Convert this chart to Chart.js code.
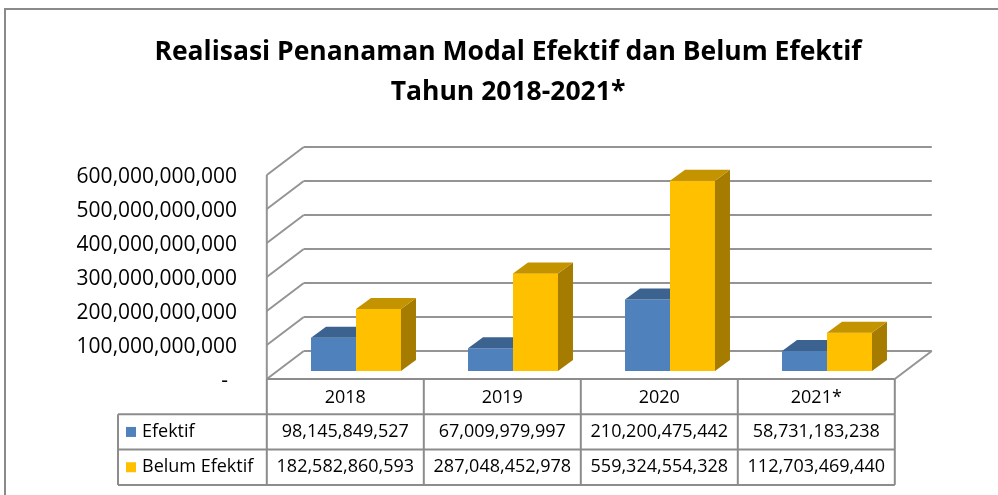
<!DOCTYPE html>
<html>
<head>
<meta charset="utf-8">
<title>Realisasi Penanaman Modal</title>
<script src="https://cdn.jsdelivr.net/npm/chart.js@4/dist/chart.umd.min.js"></script>
<style>
  html, body { margin: 0; padding: 0; background: #ffffff; }
  #wrap { width: 998px; height: 495px; position: relative; }
  canvas { display: block; }
</style>
</head>
<body>
<div id="wrap"><canvas id="chart" width="998" height="495"></canvas></div>
<script>
// Data
const titleLines = ['Realisasi Penanaman Modal Efektif dan Belum Efektif', 'Tahun 2018-2021*'];
const categories = ['2018', '2019', '2020', '2021*'];
const seriesNames = ['Efektif', 'Belum Efektif'];
const efektif = [98145849527, 67009979997, 210200475442, 58731183238];
const belumEfektif = [182582860593, 287048452978, 559324554328, 112703469440];
const yTickValues = [0, 100000000000, 200000000000, 300000000000, 400000000000, 500000000000, 600000000000];

// Colours
const faceColors = ['#4F81BD', '#FFC000'];
const topColors = ['#3C6290', '#C49300'];
const sideColors = ['#2F4E75', '#A67C00'];
const gridColor = '#949494';
const tableColor = '#8c8c8c';
const FONT = '"Open Sans", "DejaVu Sans", sans-serif';

// Perspective offsets relative to the plane the bars stand in
const FRONT = { x: -10.7, y: 8 };    // front edge of floor / walls
const BACK = { x: 26.3, y: -20 };    // back wall
const BAR_DEPTH = { x: 15, y: -11 }; // thickness of each bar

const fmt = v => v.toLocaleString('en-US');

function line(ctx, x1, y1, x2, y2) {
  ctx.beginPath();
  ctx.moveTo(x1, y1);
  ctx.lineTo(x2, y2);
  ctx.stroke();
}

function poly(ctx, pts, color) {
  ctx.beginPath();
  ctx.moveTo(pts[0][0], pts[0][1]);
  for (let i = 1; i < pts.length; i++) ctx.lineTo(pts[i][0], pts[i][1]);
  ctx.closePath();
  ctx.fillStyle = color;
  ctx.fill();
}

// Back wall, side wall and floor grid
const gridPlugin = {
  id: 'grid3d',
  beforeDatasetsDraw(chart) {
    const { ctx, chartArea: a } = chart;
    const y = chart.scales.y;
    ctx.save();
    ctx.strokeStyle = gridColor;
    ctx.lineWidth = 2;
    yTickValues.forEach(v => {
      const py = y.getPixelForValue(v);
      line(ctx, a.left + BACK.x, py + BACK.y, a.right + BACK.x, py + BACK.y);
      line(ctx, a.left + FRONT.x, py + FRONT.y, a.left + BACK.x, py + BACK.y);
    });
    const top = y.getPixelForValue(yTickValues[yTickValues.length - 1]);
    const base = y.getPixelForValue(0);
    line(ctx, a.left + FRONT.x, top + FRONT.y, a.left + FRONT.x, base + FRONT.y);
    line(ctx, a.right + FRONT.x, base + FRONT.y, a.right + BACK.x, base + BACK.y);
    ctx.restore();
  }
};

// Tops and sides of the bars
const bar3dPlugin = {
  id: 'bar3d',
  afterDatasetsDraw(chart) {
    const ctx = chart.ctx;
    const drawDepth = (di) => {
      chart.getDatasetMeta(di).data.forEach(el => {
        const L = el.x - el.width / 2, R = el.x + el.width / 2;
        const T = el.y, B = el.base;
        const dx = BAR_DEPTH.x, dy = BAR_DEPTH.y;
        poly(ctx, [[R, T], [R + dx, T + dy], [R + dx, B + dy], [R, B]], sideColors[di]);
        poly(ctx, [[L, T], [R, T], [R + dx, T + dy], [L + dx, T + dy]], topColors[di]);
      });
    };
    ctx.save();
    drawDepth(0);
    // second series sits to the right, so its front face covers the first one's depth
    chart.getDatasetMeta(1).data.forEach(el => el.draw(ctx));
    drawDepth(1);
    ctx.restore();
  }
};

// Title, value axis labels, data table and outer frame
const decorPlugin = {
  id: 'decor',
  afterDraw(chart) {
    const { ctx, chartArea: a } = chart;
    const y = chart.scales.y, x = chart.scales.x;
    ctx.save();

    // frame
    ctx.strokeStyle = '#8a8a8a';
    ctx.lineWidth = 2;
    ctx.beginPath();
    ctx.moveTo(5, 495); ctx.lineTo(5, 9); ctx.lineTo(998, 9);
    ctx.stroke();

    // title
    ctx.fillStyle = '#000';
    ctx.textAlign = 'center';
    ctx.textBaseline = 'middle';
    ctx.font = 'bold 26.5px ' + FONT;
    ctx.fillText(titleLines[0], 508, 52);
    ctx.fillText(titleLines[1], 508, 92);

    // value labels on the front edge of the side wall
    ctx.font = '21px ' + FONT;
    ctx.textAlign = 'right';
    yTickValues.forEach(v => {
      const py = y.getPixelForValue(v) + FRONT.y + 2;
      if (v === 0) ctx.fillText('-', 228, py);
      else ctx.fillText(fmt(v), 237, py);
    });

    // data table
    const left = a.left + FRONT.x;
    const right = a.right + FRONT.x;
    const colW = (a.right - a.left) / categories.length;
    const rowTop = y.getPixelForValue(0) + FRONT.y;
    const rowH = 35.3;
    const legendLeft = 118;
    const rows = [rowTop, rowTop + rowH, rowTop + 2 * rowH, rowTop + 3 * rowH];

    ctx.strokeStyle = tableColor;
    ctx.lineWidth = 2;
    line(ctx, left, rows[0], right, rows[0]);
    for (let r = 1; r < rows.length; r++) line(ctx, legendLeft, rows[r], right, rows[r]);
    for (let c = 0; c <= categories.length; c++) {
      const cx = left + c * colW;
      line(ctx, cx, rows[0], cx, rows[3]);
    }
    line(ctx, legendLeft, rows[1], legendLeft, rows[3]);

    ctx.fillStyle = '#000';
    ctx.font = '18px ' + FONT;
    ctx.textAlign = 'center';
    categories.forEach((cat, i) => {
      const cx = x.getPixelForValue(i) + FRONT.x;
      ctx.fillText(cat, cx, (rows[0] + rows[1]) / 2 + 1);
    });
    const seriesData = [efektif, belumEfektif];
    seriesData.forEach((arr, s) => {
      const cy = (rows[s + 1] + rows[s + 2]) / 2;
      arr.forEach((v, i) => {
        const cx = x.getPixelForValue(i) + FRONT.x;
        ctx.fillStyle = '#000';
        ctx.textAlign = 'center';
        ctx.fillText(fmt(v), cx, cy);
      });
      ctx.fillStyle = faceColors[s];
      ctx.fillRect(126, cy - 5, 10, 10);
      ctx.fillStyle = '#000';
      ctx.textAlign = 'left';
      ctx.fillText(seriesNames[s], 142, cy);
    });

    ctx.restore();
  }
};

new Chart(document.getElementById('chart'), {
  type: 'bar',
  data: {
    labels: categories,
    datasets: [
      { label: seriesNames[0], data: efektif, backgroundColor: faceColors[0] },
      { label: seriesNames[1], data: belumEfektif, backgroundColor: faceColors[1] }
    ]
  },
  options: {
    responsive: false,
    animation: false,
    layout: { padding: { left: 277.5, right: 92.5, top: 167, bottom: 124 } },
    datasets: { bar: { categoryPercentage: 0.573, barPercentage: 1.0 } },
    plugins: { legend: { display: false }, title: { display: false }, tooltip: { enabled: false } },
    scales: {
      x: { display: false },
      y: { display: false, min: 0, max: 600000000000, ticks: { stepSize: 100000000000 } }
    }
  },
  plugins: [gridPlugin, bar3dPlugin, decorPlugin]
});
</script>
</body>
</html>
